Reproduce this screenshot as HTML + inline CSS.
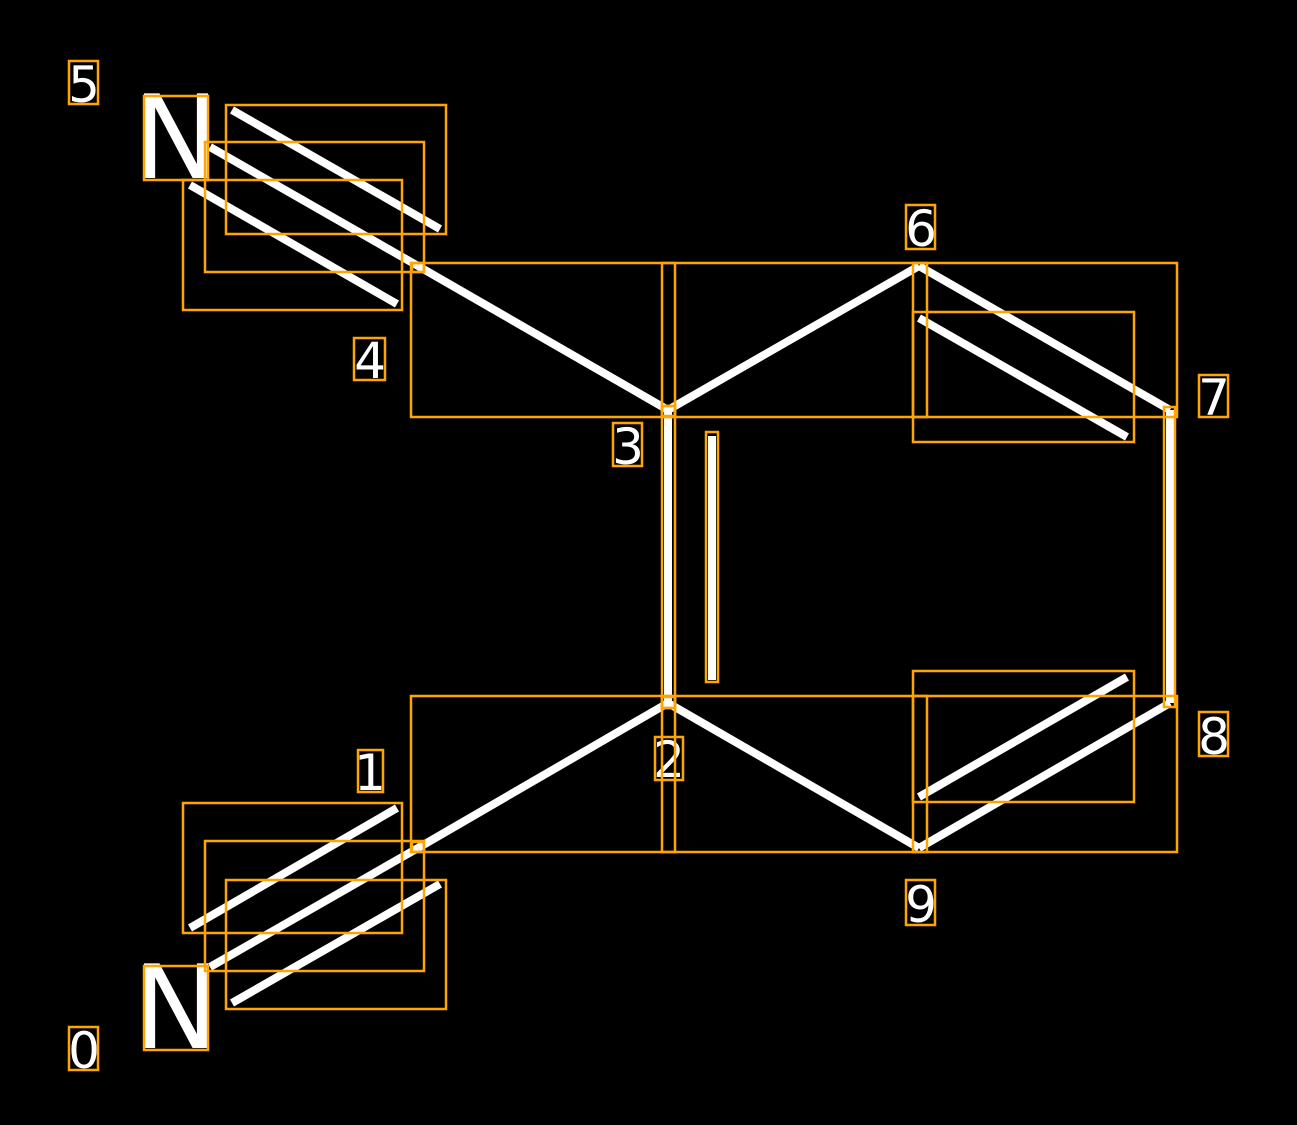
<!DOCTYPE html>
<html><head><style>html,body{margin:0;padding:0;background:#000}</style></head><body>
<svg width="1297" height="1125" viewBox="0 0 1297 1125" xmlns="http://www.w3.org/2000/svg" style="display:block">
<rect width="1297" height="1125" fill="#000"/>
<g stroke="#fff" stroke-width="8" fill="none">
<line x1="232" y1="110" x2="440" y2="229"/>
<line x1="210" y1="147" x2="418" y2="266"/>
<line x1="190" y1="185" x2="397" y2="304"/>
<line x1="418" y1="266" x2="668" y2="410"/>
<line x1="668" y1="410" x2="919" y2="266"/>
<line x1="919" y1="266" x2="1170" y2="410"/>
<line x1="919" y1="318" x2="1127" y2="437"/>
<line x1="1170" y1="410" x2="1170" y2="703"/>
<line x1="1170" y1="703" x2="919" y2="848"/>
<line x1="919" y1="797" x2="1127" y2="677"/>
<line x1="919" y1="848" x2="668" y2="703"/>
<line x1="668" y1="410" x2="668" y2="703"/>
<line x1="712" y1="436" x2="712" y2="680"/>
<line x1="668" y1="703" x2="418" y2="848"/>
<line x1="397" y1="808" x2="190" y2="928"/>
<line x1="418" y1="848" x2="210" y2="967"/>
<line x1="440" y1="884" x2="232" y2="1003"/>
</g>
<g font-family="DejaVu Sans, sans-serif" fill="#fff">
<text x="176" y="178" font-size="116" text-anchor="middle">N</text>
<text x="176" y="1048" font-size="116" text-anchor="middle">N</text>
<g font-size="50" text-anchor="middle">
<text x="84" y="102">5</text>
<text x="84" y="1068">0</text>
<text x="370" y="378">4</text>
<text x="628" y="464">3</text>
<text x="921" y="246">6</text>
<text x="1214" y="415">7</text>
<text x="1214" y="754">8</text>
<text x="669" y="777">2</text>
<text x="370" y="790">1</text>
<text x="921" y="922">9</text>
</g>
</g>
<g stroke="#ffa500" stroke-width="2.5" fill="none">
<rect x="69" y="61" width="29" height="43"/>
<rect x="144" y="96" width="64" height="84"/>
<rect x="226" y="105" width="220" height="129"/>
<rect x="205" y="142" width="219" height="130"/>
<rect x="183" y="180" width="219" height="130"/>
<rect x="412" y="263" width="12" height="9"/>
<rect x="411" y="263" width="264" height="154"/>
<rect x="662" y="263" width="265" height="154"/>
<rect x="913" y="263" width="264" height="154"/>
<rect x="913" y="312" width="221" height="130"/>
<rect x="662" y="406" width="13" height="302"/>
<rect x="662" y="406" width="13" height="10"/>
<rect x="662" y="697" width="13" height="11"/>
<rect x="706" y="432" width="12" height="250"/>
<rect x="1164" y="407" width="11" height="300"/>
<rect x="411" y="696" width="264" height="156"/>
<rect x="662" y="696" width="265" height="156"/>
<rect x="913" y="696" width="264" height="156"/>
<rect x="913" y="671" width="221" height="131"/>
<rect x="183" y="803" width="219" height="130"/>
<rect x="205" y="841" width="219" height="130"/>
<rect x="226" y="880" width="220" height="129"/>
<rect x="412" y="842" width="12" height="10"/>
<rect x="144" y="966" width="64" height="84"/>
<rect x="69" y="1027" width="29" height="43"/>
<rect x="354" y="338" width="31" height="42"/>
<rect x="613" y="423" width="29" height="43"/>
<rect x="906" y="205" width="29" height="44"/>
<rect x="1199" y="375" width="29" height="42"/>
<rect x="1199" y="712" width="29" height="44"/>
<rect x="655" y="737" width="28" height="43"/>
<rect x="358" y="750" width="25" height="42"/>
<rect x="906" y="880" width="29" height="45"/>
</g>
</svg>
</body></html>
